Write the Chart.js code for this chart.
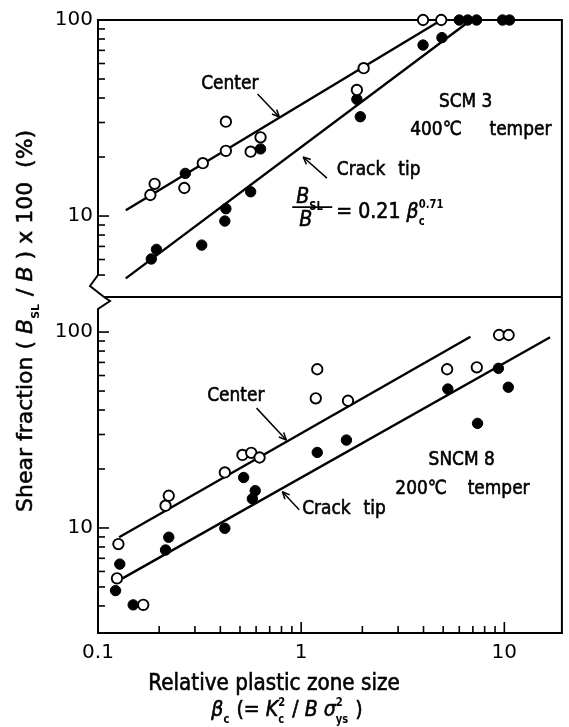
<!DOCTYPE html>
<html>
<head>
<meta charset="utf-8">
<script src="https://cdn.jsdelivr.net/npm/chart.js@4.4.1/dist/chart.umd.min.js"></script>
<style>
  html, body { margin: 0; padding: 0; background: #fff; }
  canvas { display: block; }
</style>
</head>
<body>
<canvas id="c" width="569" height="727"></canvas>
<script>
const FAM = '"DejaVu Sans", "Liberation Sans", Arial, sans-serif';

// ---- SCM 3, 400 °C temper (upper panel) ----
const scmCenterX = [0.181, 0.190, 0.266, 0.328, 0.426, 0.426, 0.564, 0.631, 1.88, 2.03, 3.98, 4.89];
const scmCenterY = [12.8, 14.6, 13.9, 18.6, 30.3, 21.5, 21.3, 25.2, 44.0, 56.8, 100, 100];
const scmTipX = [0.183, 0.194, 0.269, 0.324, 0.426, 0.421, 0.564, 0.631, 1.88, 1.955, 3.98, 4.93, 6.0, 6.6, 7.3, 9.8, 10.6];
const scmTipY = [6.04, 6.76, 16.5, 7.11, 10.9, 9.43, 13.3, 22.0, 39.4, 32.1, 74.5, 81.3, 100, 100, 100, 100, 100];
const scmCenterFitX = [0.137, 4.9];
const scmCenterFitY = [10.7, 100];
const scmTipFitX = [0.137, 6.85];
const scmTipFitY = [4.81, 100];

// ---- SNCM 8, 200 °C temper (lower panel) ----
const sncmCenterX = [0.126, 0.124, 0.167, 0.215, 0.223, 0.421, 0.514, 0.568, 0.624, 1.20, 1.18, 1.70, 5.23, 7.32, 9.42, 10.5];
const sncmCenterY = [8.28, 5.53, 4.05, 13.0, 14.6, 19.2, 23.6, 24.2, 22.9, 64.6, 45.9, 44.6, 64.6, 66.1, 96.6, 96.6];
const sncmTipX = [0.128, 0.122, 0.149, 0.223, 0.215, 0.421, 0.521, 0.594, 0.575, 1.20, 1.67, 5.27, 7.38, 9.35, 10.46];
const sncmTipY = [6.54, 4.79, 4.05, 8.97, 7.72, 9.96, 18.1, 15.5, 14.1, 24.3, 28.1, 51.2, 34.2, 65.3, 52.3];
const sncmCenterFitX = [0.127, 6.81];
const sncmCenterFitY = [8.97, 94.6];
const sncmTipFitX = [0.132, 16.8];
const sncmTipFitY = [5.53, 94];

// ---- axes ----
const xTickLabels = [0.1, 1, 10];
const xMinorTicks = [0.2, 0.3, 0.4, 0.5, 0.6, 0.7, 0.8, 0.9, 2, 3, 4, 5, 6, 7, 8, 9];
const yTickLabels = [10, 100];
const yTopMinorTicks = [5, 6, 7, 8, 9, 20, 30, 40, 50, 60, 70, 80, 90];
const yBotMinorTicks = [4, 5, 6, 7, 8, 9, 20, 30, 40, 50, 60, 70, 80, 90];

const pts = (xs, ys) => xs.map((x, i) => ({ x, y: ys[i] }));

const openPt = { showLine: false, pointRadius: 5.2, pointBackgroundColor: '#fff', pointBorderColor: '#000', pointBorderWidth: 1.9, clip: false, order: 1 };
const fillPt = { showLine: false, pointRadius: 5.2, pointBackgroundColor: '#000', pointBorderColor: '#000', pointBorderWidth: 1, clip: false, order: 1 };
const fitLine = { showLine: true, pointRadius: 0, borderColor: '#000', borderWidth: 2.4, fill: false, clip: false, order: 2 };

const STRETCH = 1.15; // lettering is drawn slightly tall and narrow
const INK = 0.55;     // extra stroke that gives the lettering its weight

// ---- rich text (italic, sub/superscripts) ----
function segFont(kind, size) {
  if (kind === 'i') return `italic ${size}px ${FAM}`;
  if (kind === 'n') return `${size}px ${FAM}`;
  return `bold ${Math.round(size * 0.5)}px ${FAM}`;
}
function segWidth(ctx, seg, size) {
  const [t, kind] = seg;
  ctx.font = segFont(kind, size);
  if (kind === 'ss') return Math.max(ctx.measureText(t[0]).width, ctx.measureText(t[1]).width) + 1;
  return ctx.measureText(t).width + (kind === 'sub' || kind === 'sup' ? 1 : 0);
}
function inkText(ctx, t, x, y, small) {
  ctx.fillText(t, x, y);
  if (!small) ctx.strokeText(t, x, y);
}
function drawRich(ctx, segs, x, y, size, align, sy) {
  ctx.save();
  ctx.translate(x, y);
  ctx.scale(1, sy || STRETCH);
  ctx.lineWidth = INK;
  const total = segs.reduce((w, s) => w + segWidth(ctx, s, size), 0);
  let cx = align === 'center' ? -total / 2 : 0;
  ctx.textAlign = 'left';
  ctx.textBaseline = 'alphabetic';
  for (const s of segs) {
    const [t, kind] = s;
    const w = segWidth(ctx, s, size);
    if (kind === 'sub') inkText(ctx, t, cx, size * 0.3, true);
    else if (kind === 'sup') inkText(ctx, t, cx, -size * 0.45, true);
    else if (kind === 'ss') { inkText(ctx, t[0], cx, size * 0.3, true); inkText(ctx, t[1], cx, -size * 0.45, true); }
    else inkText(ctx, t, cx, 0);
    cx += w;
  }
  ctx.restore();
}
function seg(ctx, x1, y1, x2, y2) {
  ctx.beginPath(); ctx.moveTo(x1, y1); ctx.lineTo(x2, y2); ctx.stroke();
}
function arrow(ctx, x1, y1, x2, y2) {
  ctx.lineWidth = 1.5;
  seg(ctx, x1, y1, x2, y2);
  const a = Math.atan2(y2 - y1, x2 - x1);
  for (const d of [0.42, -0.42]) {
    seg(ctx, x2, y2, x2 - 8 * Math.cos(a + d), y2 - 8 * Math.sin(a + d));
  }
}

const panelDecor = {
  id: 'panelDecor',
  beforeDatasetsDraw(chart) {
    const ctx = chart.ctx;
    const { left: L, right: R, top: T, bottom: B } = chart.chartArea;
    const J = chart.scales.yTop.bottom;
    ctx.save();
    ctx.strokeStyle = '#000';
    ctx.lineWidth = 2;
    ctx.lineJoin = 'miter';
    // frame with the axis break between the two panels
    ctx.beginPath();
    ctx.moveTo(L, J - 22);
    ctx.lineTo(L, T); ctx.lineTo(R, T); ctx.lineTo(R, B); ctx.lineTo(L, B);
    ctx.lineTo(L, J + 12); ctx.lineTo(L + 12, J + 4); ctx.lineTo(L + 6, J);
    ctx.lineTo(L - 8, J - 11); ctx.lineTo(L, J - 22);
    ctx.stroke();
    seg(ctx, L + 6, J, R, J);

    // inward tick marks
    ctx.lineWidth = 1.6;
    const yT = chart.scales.yTop, yB = chart.scales.yBot, xs = chart.scales.x;
    for (const v of yTopMinorTicks) { const p = yT.getPixelForValue(v); seg(ctx, L, p, L + 7, p); }
    for (const v of yBotMinorTicks) { const p = yB.getPixelForValue(v); seg(ctx, L, p, L + 7, p); }
    for (const v of yTickLabels) {
      const p1 = yT.getPixelForValue(v); if (p1 > T + 2) seg(ctx, L, p1, L + 11, p1);
      const p2 = yB.getPixelForValue(v); seg(ctx, L, p2, L + 11, p2);
    }
    for (const v of xMinorTicks) { const p = xs.getPixelForValue(v); seg(ctx, p, B, p, B - 7); }
    for (const v of xTickLabels) { const p = xs.getPixelForValue(v); if (p > L + 2) seg(ctx, p, B, p, B - 11); }
    ctx.restore();
  },
  afterDraw(chart) {
    const ctx = chart.ctx;
    const xs = chart.scales.x, yT = chart.scales.yTop, yB = chart.scales.yBot;
    const px = v => xs.getPixelForValue(v);
    ctx.save();
    ctx.fillStyle = '#000';
    ctx.strokeStyle = '#000';
    const text = (t, x, y, align, size) => {
      ctx.save();
      ctx.translate(x, y);
      ctx.scale(1, STRETCH);
      ctx.font = `${size || 17}px ${FAM}`;
      ctx.textAlign = align || 'center';
      ctx.textBaseline = 'middle';
      ctx.lineWidth = INK;
      inkText(ctx, t, 0, 0);
      ctx.restore();
    };
    const words = (a, b, x, y, gap) => {
      text(a, x, y, 'left');
      ctx.font = `17px ${FAM}`;
      text(b, x + ctx.measureText(a).width + gap, y, 'left');
    };

    // upper panel notes
    text('Center', px(0.4455), yT.getPixelForValue(47.2));
    arrow(ctx, px(0.61), yT.getPixelForValue(41.9), px(0.781), yT.getPixelForValue(32.0));
    words('Crack', 'tip', px(1.498), yT.getPixelForValue(17.2), 13);
    arrow(ctx, px(1.339), yT.getPixelForValue(15.6), px(1.023), yT.getPixelForValue(20.0));
    text('SCM 3', px(6.45), yT.getPixelForValue(38.2));
    text('400℃', px(3.44), yT.getPixelForValue(27.5), 'left');
    text('temper', px(8.45), yT.getPixelForValue(27.5), 'left');

    // fitted relation B_SL/B = 0.21 βc^0.71
    const ax = px(0.904), ay = yT.getPixelForValue(11.1);
    ctx.lineWidth = 1.6;
    seg(ctx, ax, ay, ax + 40, ay);
    drawRich(ctx, [['B', 'i'], ['SL', 'sub']], ax + 4, ay - 4, 19, 'left');
    drawRich(ctx, [['B', 'i']], ax + 7, ay + 19, 19, 'left');
    drawRich(ctx, [['= 0.21 ', 'n'], ['β', 'i'], [['c', '0.71'], 'ss']], ax + 44, ay + 11, 19, 'left');

    // lower panel notes
    text('Center', px(0.477), yB.getPixelForValue(47.1));
    arrow(ctx, px(0.603), yB.getPixelForValue(40.9), px(0.845), yB.getPixelForValue(28.1));
    words('Crack', 'tip', px(1.011), yB.getPixelForValue(12.5), 13);
    arrow(ctx, px(0.978), yB.getPixelForValue(12.4), px(0.808), yB.getPixelForValue(15.3));
    text('SNCM 8', px(6.17), yB.getPixelForValue(22.2));
    text('200℃', px(2.907), yB.getPixelForValue(15.8), 'left');
    text('temper', px(6.60), yB.getPixelForValue(15.8), 'left');

    // axis titles
    text('Relative plastic zone size', 274, 684, 'center', 20);
    drawRich(ctx, [['β', 'i'], ['c', 'sub'], [' (= ', 'n'], ['K', 'i'], [['c', '2'], 'ss'], [' / ', 'n'],
                   ['B', 'i'], [' ', 'n'], ['σ', 'i'], [['ys', '2'], 'ss'], [' )', 'n']], 287, 716, 19, 'center');

    ctx.save();
    ctx.translate(24, 512);
    ctx.rotate(-Math.PI / 2);
    drawRich(ctx, [['Shear fraction ( ', 'n'], ['B', 'i'], ['SL', 'sub'], [' / ', 'n'], ['B', 'i'],
                   [' ) x 100  (%)', 'n']], 0, 8, 22, 'left', 1);
    ctx.restore();
    ctx.restore();
  }
};

const yAxis = (min, max, weight, stackWeight) => ({
  type: 'logarithmic', position: 'left', stack: 'panels', weight, stackWeight, min, max,
  grid: { display: false, drawTicks: false }, border: { display: false },
  afterBuildTicks: s => { s.ticks = yTickLabels.map(v => ({ value: v })); },
  afterFit: s => { s.width = 98; },
  ticks: { padding: 5, color: '#000', font: { family: FAM, size: 20 }, callback: v => String(v) }
});

new Chart(document.getElementById('c'), {
  type: 'scatter',
  data: {
    datasets: [
      { label: 'SCM 3 center', data: pts(scmCenterX, scmCenterY), yAxisID: 'yTop', ...openPt },
      { label: 'SCM 3 crack tip', data: pts(scmTipX, scmTipY), yAxisID: 'yTop', ...fillPt },
      { label: 'SNCM 8 center', data: pts(sncmCenterX, sncmCenterY), yAxisID: 'yBot', ...openPt },
      { label: 'SNCM 8 crack tip', data: pts(sncmTipX, sncmTipY), yAxisID: 'yBot', ...fillPt },
      { label: 'SCM 3 center fit', data: pts(scmCenterFitX, scmCenterFitY), yAxisID: 'yTop', ...fitLine },
      { label: 'SCM 3 crack tip fit', data: pts(scmTipFitX, scmTipFitY), yAxisID: 'yTop', ...fitLine },
      { label: 'SNCM 8 center fit', data: pts(sncmCenterFitX, sncmCenterFitY), yAxisID: 'yBot', ...fitLine },
      { label: 'SNCM 8 crack tip fit', data: pts(sncmTipFitX, sncmTipFitY), yAxisID: 'yBot', ...fitLine }
    ]
  },
  options: {
    responsive: false,
    animation: false,
    events: [],
    layout: { padding: { top: 20, right: 4, left: 0, bottom: 0 } },
    plugins: { legend: { display: false }, tooltip: { enabled: false } },
    scales: {
      x: {
        type: 'logarithmic', position: 'bottom', min: 0.1, max: 19.2,
        grid: { display: false, drawTicks: false }, border: { display: false },
        afterBuildTicks: s => { s.ticks = xTickLabels.map(v => ({ value: v })); },
        afterFit: s => { s.height = 94; },
        ticks: { autoSkip: false, maxRotation: 0, padding: 8, color: '#000', font: { family: FAM, size: 20 }, callback: v => String(v) }
      },
      yTop: yAxis(3.864, 100, 2, 277),
      yBot: yAxis(2.91, 151, 1, 336)
    }
  },
  plugins: [panelDecor]
});
</script>
</body>
</html>
